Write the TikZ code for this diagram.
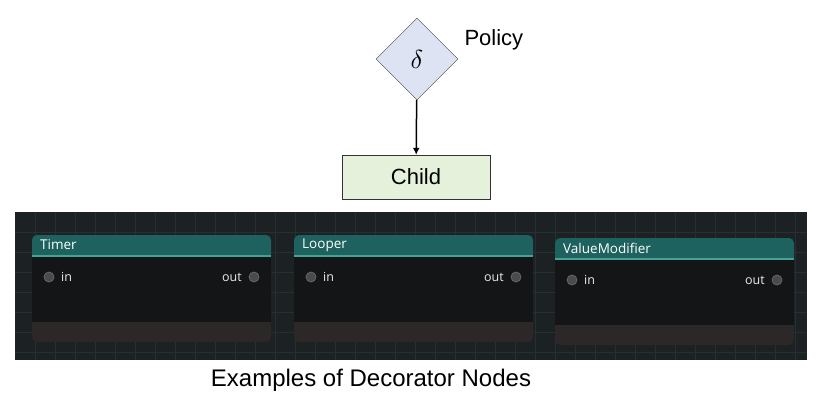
\documentclass[tikz,border=0pt]{standalone}
\usepackage{amsmath}
\usepackage{fontspec}
\setmainfont{Liberation Sans}
\newfontfamily\uifont{Open Sans}
\usetikzlibrary{shapes.geometric,arrows.meta}

\definecolor{diamondblue}{HTML}{DDE3F3}
\definecolor{childgreen}{HTML}{E5F1DA}
\definecolor{panelbg}{HTML}{1C2123}
\definecolor{gridcol}{HTML}{263033}
\definecolor{cardhead}{HTML}{1D625E}
\definecolor{cardline}{HTML}{45A395}
\definecolor{cardbody}{HTML}{141517}
\definecolor{cardfoot}{HTML}{2C2828}
\definecolor{portfill}{HTML}{4B4B4D}

\tikzset{
  policybox/.style={diamond, draw=black!75, fill=diamondblue, minimum width=82pt, minimum height=82pt, inner sep=0pt},
  childbox/.style={draw=black!80, fill=childgreen, minimum width=148pt, minimum height=44pt, inner sep=0pt, font=\fontsize{22}{26}\selectfont},
  cardtitle/.style={text=white, inner sep=0pt, font=\uifont\fontsize{13.5}{15}\selectfont},
  porttext/.style={text=white!92!black, inner sep=0pt, font=\uifont\fontsize{12.5}{14}\selectfont},
  port/.style={circle, fill=portfill, draw=black!60, line width=0.8pt, minimum size=10pt, inner sep=0pt}
}

\begin{document}
\begin{tikzpicture}[x=1pt,y=-1pt]
  \useasboundingbox (0,0) rectangle (818,410);

  \node[policybox] (policy) at (417,59) {\scalebox{2.6}{$\delta$}};
  \node[anchor=west, font=\fontsize{22}{26}\selectfont] (policylabel) at (461,40) {Policy};
  \node[childbox] (child) at (416,177) {Child};
  \draw[line width=1.5pt, -{Latex[length=7pt,width=7pt]}] (policy) -- (child);

  \fill[panelbg] (15,212) rectangle (807,360);
  \foreach \gx in {35,55,...,795}
    \draw[gridcol, line width=0.6pt] (\gx,212) -- (\gx,360);
  \foreach \gy in {232,252,...,352}
    \draw[gridcol, line width=0.6pt] (15,\gy) -- (807,\gy);

  \foreach \name/\title/\lx/\ty in {timer/Timer/32/235, looper/Looper/294/235, modifier/ValueModifier/555/238} {
    \fill[cardfoot, rounded corners=5pt] (\lx,\ty) rectangle (\lx+239,\ty+107);
    \fill[cardbody] (\lx,\ty+21) rectangle (\lx+239,\ty+87);
    \fill[cardhead] (\lx,\ty+21) {[rounded corners=5pt] -- (\lx,\ty) -- (\lx+239,\ty)} -- (\lx+239,\ty+21) -- cycle;
    \draw[cardline, line width=1.6pt] (\lx,\ty+21) -- (\lx+239,\ty+21);
    \node[cardtitle, anchor=west] (\name-title) at (\lx+8,\ty+10) {\title};
    \node[port] (\name-in) at (\lx+17,\ty+42) {};
    \node[porttext, anchor=west] (\name-intext) at (\lx+29,\ty+42) {in};
    \node[port] (\name-out) at (\lx+222,\ty+42) {};
    \node[porttext, anchor=east] (\name-outtext) at (\lx+210,\ty+42) {out};
  }

  \node[font=\fontsize{24}{28}\selectfont] (caption) at (371,380) {Examples of Decorator Nodes};
\end{tikzpicture}
\end{document}
